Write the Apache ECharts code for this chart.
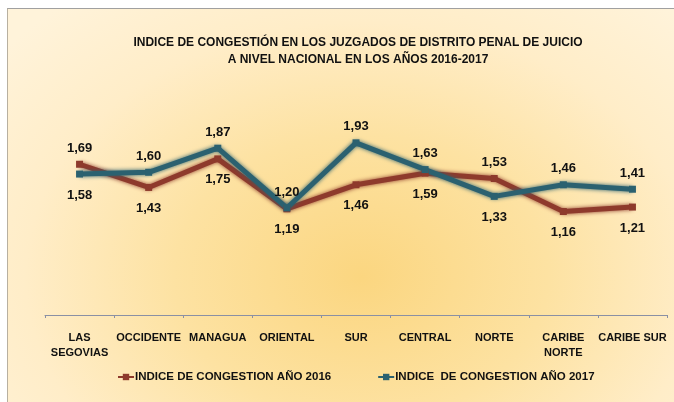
<!DOCTYPE html>
<html>
<head>
<meta charset="utf-8">
<script src="https://cdn.jsdelivr.net/npm/echarts@6/dist/echarts.min.js"></script>
<style>
  html, body { margin: 0; padding: 0; background: #fff; }
  #frame {
    position: absolute; left: 7px; top: 8px; width: 667px; height: 394px;
    border-top: 1px solid #a0a0a0; border-left: 1px solid #b8b0a0;
    background: radial-gradient(ellipse 70% 90% at 53% 68%, #fbd680 0%, #fde2a2 40%, #ffedc8 72%, #fff3da 100%);
  }
  #main { position: absolute; left: 0; top: 0; width: 674px; height: 402px; }
</style>
</head>
<body>
<div id="frame"></div>
<div id="main"></div>
<script>
// categorías (regiones)
var categories = ['LAS\nSEGOVIAS', 'OCCIDENTE', 'MANAGUA', 'ORIENTAL', 'SUR', 'CENTRAL', 'NORTE', 'CARIBE\nNORTE', 'CARIBE SUR'];
// índice de congestión por año
var values2016 = [1.69, 1.43, 1.75, 1.19, 1.46, 1.59, 1.53, 1.16, 1.21];
var values2017 = [1.58, 1.60, 1.87, 1.20, 1.93, 1.63, 1.33, 1.46, 1.41];
var seriesNames = ['INDICE DE CONGESTION AÑO 2016', 'INDICE  DE CONGESTION AÑO 2017'];
var titleText = 'INDICE DE CONGESTIÓN EN LOS JUZGADOS DE DISTRITO PENAL DE JUICIO\nA NIVEL NACIONAL EN LOS AÑOS 2016-2017';

var narrow = '"Liberation Sans Narrow", "Arial Narrow", "Liberation Sans", Arial, sans-serif';
var red = '#8e3a2c';
var teal = '#2b6170';

// etiqueta arriba para la serie mayor, abajo para la menor
function buildData(vals, other) {
    return vals.map(function (v, i) {
        var up = v >= other[i];
        return {
            value: v,
            label: { position: up ? 'top' : 'bottom', distance: up ? 6 : 11 }
        };
    });
}

function lineSeries(name, vals, other, color) {
    return {
        name: name,
        type: 'line',
        data: buildData(vals, other),
        symbol: 'rect',
        symbolSize: 7,
        lineStyle: { color: color, width: 5, shadowColor: color, shadowBlur: 4 },
        itemStyle: { color: color },
        label: {
            show: true,
            color: '#111',
            fontFamily: 'Arial, "Liberation Sans", sans-serif',
            fontWeight: 'bold',
            fontSize: 13,
            formatter: function (p) { return p.value.toFixed(2).replace('.', ','); }
        }
    };
}

var myChart = echarts.init(document.getElementById('main'));
myChart.setOption({
    animation: false,
    title: {
        text: titleText,
        left: 353, top: 29, textAlign: 'center',
        textStyle: { fontFamily: narrow, fontWeight: 'bold', fontSize: 12, color: '#111', lineHeight: 17 }
    },
    legend: {
        bottom: 14,
        left: 112,
        itemGap: 46,
        itemWidth: 16,
        itemHeight: 8,
        textStyle: { fontFamily: narrow, fontWeight: 'bold', fontSize: 11.5, color: '#111', padding: [0, 0, 0, -4] },
        data: seriesNames
    },
    grid: { left: 45, right: 7, top: 92, bottom: 87 },
    xAxis: {
        type: 'category',
        data: categories,
        boundaryGap: true,
        axisLine: { lineStyle: { color: '#8a90a4', width: 1 } },
        axisTick: { show: true, length: 3, lineStyle: { color: '#8a90a4' } },
        axisLabel: {
            interval: 0, margin: 15,
            fontFamily: narrow, fontWeight: 'bold', fontSize: 11, color: '#111', lineHeight: 15
        }
    },
    yAxis: {
        type: 'value', min: 0, max: 2.5,
        show: false,
        splitLine: { show: false }
    },
    series: [
        lineSeries(seriesNames[0], values2016, values2017, red),
        lineSeries(seriesNames[1], values2017, values2016, teal)
    ]
});
</script>
</body>
</html>
